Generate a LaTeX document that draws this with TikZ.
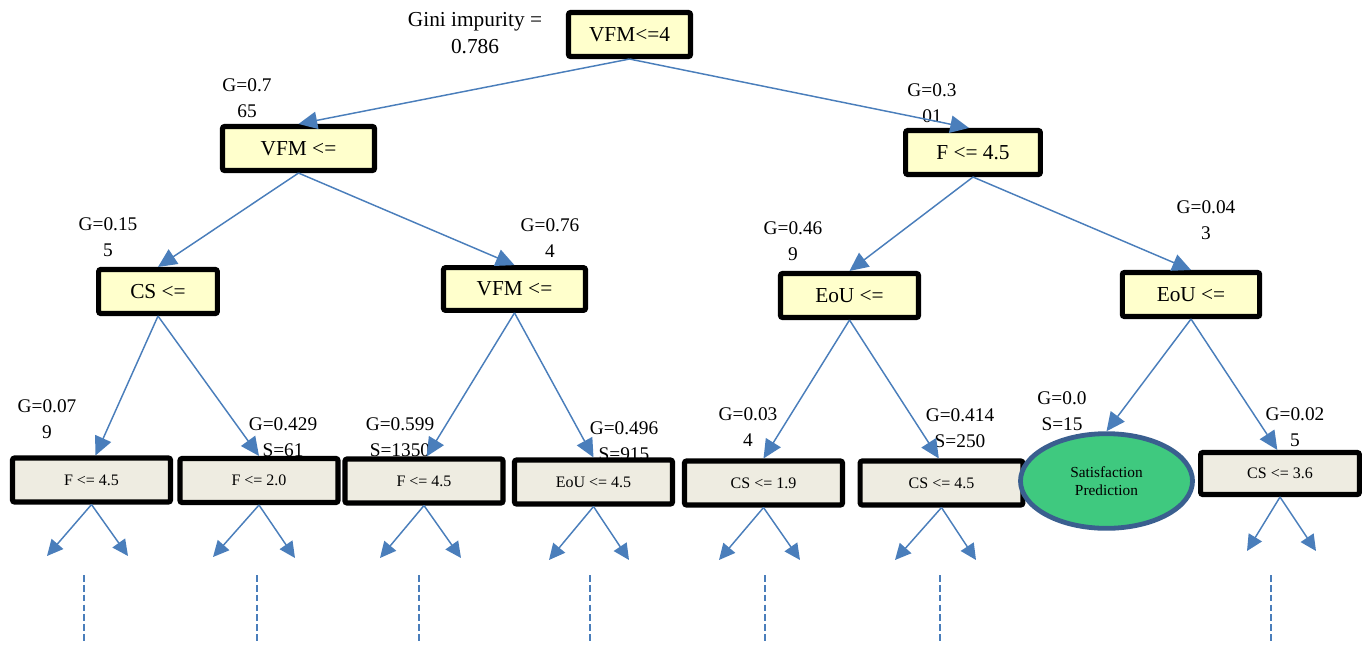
\documentclass[tikz,border=0pt]{standalone}
\usepackage{fontspec}
\setmainfont{Liberation Serif}
\usetikzlibrary{arrows.meta,shapes.geometric}
\definecolor{arrowblue}{HTML}{4A7EBB}
\definecolor{splitfill}{HTML}{FFFFCC}
\definecolor{leaffill}{HTML}{EEECE1}
\definecolor{predfill}{HTML}{3FC97F}
\definecolor{predline}{HTML}{3A5F8F}
\tikzset{
  splitbox/.style={draw=black, line width=3.8pt, fill=splitfill, rounded corners=1.5pt,
    minimum height=33pt, inner sep=0pt, font=\fontsize{16}{18}\selectfont},
  leafbox/.style={draw=black, line width=3.8pt, fill=leaffill, rounded corners=1.5pt,
    minimum width=118.5pt, minimum height=33pt, inner sep=0pt, font=\fontsize{12}{14}\selectfont},
  gini/.style={align=center, inner sep=0pt, font=\fontsize{14.5}{20}\selectfont},
  arr/.style={draw=arrowblue, line width=1.1pt, -{Triangle[length=14pt,width=13pt]}},
  smallarr/.style={draw=arrowblue, line width=1.1pt, -{Triangle[length=12pt,width=11.5pt]}},
  cont/.style={draw=arrowblue, line width=1.2pt, dash pattern=on 5pt off 2.4pt},
}
\begin{document}
\begin{tikzpicture}[x=0.75pt,y=-0.75pt]
\useasboundingbox (0,0) rectangle (1368,644);

% impurity labels (drawn first so boxes sit on top)
\node[align=center, inner sep=0pt, font=\fontsize{16}{20}\selectfont] (gtop) at (475,33) {Gini impurity =\\0.786};
\node[gini] (g1) at (247,98) {G=0.7\\65};
\node[gini] (g2) at (932,103) {G=0.3\\01};
\node[gini] (g3) at (108,237) {G=0.15\\5};
\node[gini] (g4) at (550,238) {G=0.76\\4};
\node[gini] (g5) at (793,241) {G=0.46\\9};
\node[gini] (g6) at (1206,220) {G=0.04\\3};
\node[gini] (g7) at (47,419) {G=0.07\\9};
\node[gini] (g8) at (283,437) {G=0.429\\S=61};
\node[gini] (g9) at (400,437) {G=0.599\\S=1350};
\node[gini] (g10) at (624,441) {G=0.496\\S=915};
\node[gini] (g11) at (748,427) {G=0.03\\4};
\node[gini] (g12) at (960,428) {G=0.414\\S=250};
\node[gini] (g13) at (1062,411) {G=0.0\\S=15};
\node[gini] (g14) at (1295,427) {G=0.02\\5};

% split nodes
\node[splitbox, minimum width=91.5pt] (root) at (629.5,34.5) {VFM<=4};
\node[splitbox, minimum width=114pt] (a) at (298.5,148.5) {VFM <=};
\node[splitbox, minimum width=101pt] (b) at (973,152.5) {F <= 4.5};
\node[splitbox, minimum width=89pt] (c) at (158,291.5) {CS <=};
\node[splitbox, minimum width=106.5pt, minimum height=32pt] (d) at (514.5,289) {VFM <=};
\node[splitbox, minimum width=103.5pt] (e) at (849.5,295.5) {EoU <=};
\node[splitbox, minimum width=103pt] (f) at (1191,294.5) {EoU <=};

% lower nodes
\node[leafbox] (l1) at (91.5,480) {F <= 4.5};
\node[leafbox] (l2) at (259,480.5) {F <= 2.0};
\node[leafbox] (l3) at (424,481) {F <= 4.5};
\node[leafbox] (l4) at (593.5,482) {EoU <= 4.5};
\node[leafbox] (l5) at (763.5,483) {CS <= 1.9};
\node[leafbox, minimum width=122pt] (l6) at (941.5,483) {CS <= 4.5};
\node[ellipse, draw=predline, line width=3.6pt, fill=predfill, minimum width=129pt,
  minimum height=71pt, inner sep=0pt, align=center, font=\fontsize{11.5}{13.5}\selectfont]
  (pred) at (1106.5,481) {Satisfaction\\Prediction};
\node[leafbox, minimum width=119pt, minimum height=31.5pt] (l7) at (1280,473.5) {CS <= 3.6};

% tree edges
\draw[arr] (root.south) -- (a.north);
\draw[arr] (root.south) -- ([xshift=-3pt]b.north);
\draw[arr] (a.south) -- (c.north);
\draw[arr] (a.south) -- (d.north);
\draw[arr] (b.south) -- (e.north);
\draw[arr] (b.south) -- (f.north);
\draw[arr] (c.south) -- ([xshift=3pt]l1.north);
\draw[arr] (c.south) -- (l2.north);
\draw[arr] (d.south) -- ([xshift=2pt]l3.north);
\draw[arr] (d.south) -- (l4.north);
\draw[arr] (e.south) -- (l5.north);
\draw[arr] (e.south) -- ([xshift=-2pt]l6.north);
\draw[arr] (f.south) -- (pred.north);
\draw[arr] (f.south) -- ([xshift=-2pt]l7.north);

% further branches below the lower nodes
\coordinate (l1a) at (47,556);   \coordinate (l1b) at (128,556);
\coordinate (l2a) at (213,557);  \coordinate (l2b) at (295,558);
\coordinate (l3a) at (380,558);  \coordinate (l3b) at (461,558);
\coordinate (l4a) at (549,560);  \coordinate (l4b) at (629,560);
\coordinate (l5a) at (719,560);  \coordinate (l5b) at (800,560);
\coordinate (l6a) at (895,560);  \coordinate (l6b) at (976,560);
\coordinate (l7a) at (1247,551); \coordinate (l7b) at (1316,551);
\foreach \n in {l1,l2,l3,l4,l5,l6,l7}{
  \draw[smallarr] (\n.south) -- (\n a);
  \draw[smallarr] (\n.south) -- (\n b);
}

% continuation marks
\foreach \x [count=\i] in {84,257,419,590,765,940,1271}{
  \coordinate (ct\i) at (\x,575);
  \coordinate (cb\i) at (\x,644);
  \draw[cont] (ct\i) -- (cb\i);
}
\end{tikzpicture}
\end{document}
